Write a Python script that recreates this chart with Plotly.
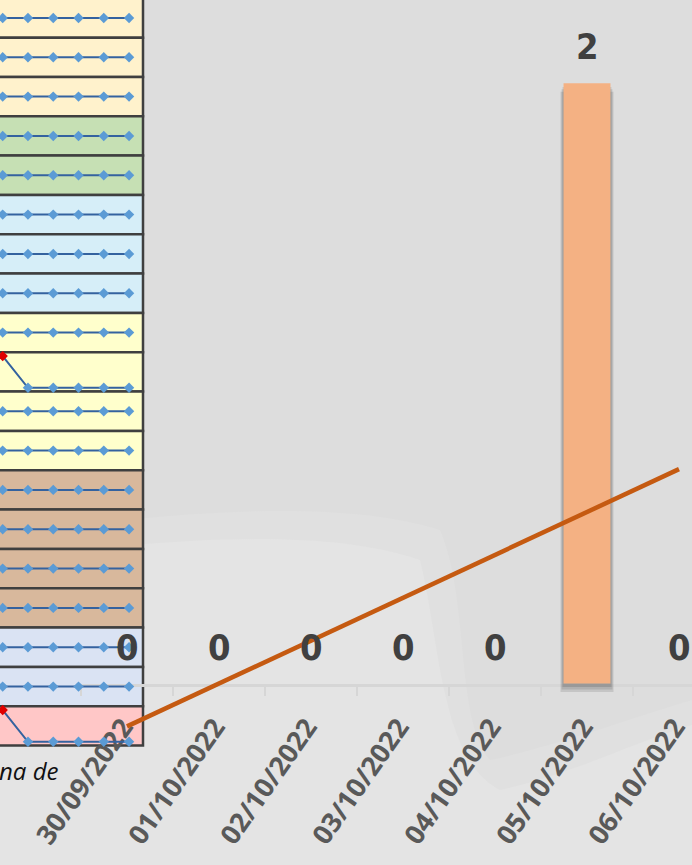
import numpy as np
import plotly.graph_objects as go

# ---------------- data ----------------
dates = ["30/09/2022", "01/10/2022", "02/10/2022", "03/10/2022",
         "04/10/2022", "05/10/2022", "06/10/2022"]
counts = [0, 0, 0, 0, 0, 2, 0]

# sparkline values shown in the (cropped) table, one list per row
spark_rows = [
    [0, 0, 0, 0, 0, 0],
    [0, 0, 0, 0, 0, 0],
    [0, 0, 0, 0, 0, 0],
    [0, 0, 0, 0, 0, 0],
    [0, 0, 0, 0, 0, 0],
    [0, 0, 0, 0, 0, 0],
    [0, 0, 0, 0, 0, 0],
    [0, 0, 0, 0, 0, 0],
    [0, 0, 0, 0, 0, 0],
    [1, 0, 0, 0, 0, 0],
    [0, 0, 0, 0, 0, 0],
    [0, 0, 0, 0, 0, 0],
    [0, 0, 0, 0, 0, 0],
    [0, 0, 0, 0, 0, 0],
    [0, 0, 0, 0, 0, 0],
    [0, 0, 0, 0, 0, 0],
    [0, 0, 0, 0, 0, 0],
    [0, 0, 0, 0, 0, 0],
    [1, 0, 0, 0, 0, 0],
]
row_group_sizes = [3, 2, 3, 4, 4, 2, 1]
row_group_colors = ["#FFF2CC", "#C6E0B4", "#D6EEF8", "#FFFFCC",
                    "#D8B89C", "#DAE3F3", "#FFC7C7"]

# ---------------- layout geometry (pixels) ----------------
W, H = 692, 865
def fx(px):
    return px / W
def fy(py):
    return (H - py) / H

TABLE_RIGHT = 143
ROW_TOP0 = -1.7
ROW_H = 39.33
CAT0_PX = 127.0
CAT_STEP = 92.0
ZERO_PX = 683.5
PX_PER_UNIT = 300.1
SPARK_X0 = 2.7
SPARK_STEP = 25.27

x_lo = (81 - CAT0_PX) / CAT_STEP
x_hi = (W - CAT0_PX) / CAT_STEP

fig = go.Figure()

shapes = []
def P(a, b):
    return f"{fx(a):.5f},{fy(b):.5f}"

# soft lighter swoosh in the lower part of the background (two tones)
path_outer = (f"M {P(0,535)} C {P(150,515)} {P(330,495)} {P(440,530)} "
              f"C {P(470,600)} {P(455,720)} {P(490,760)} "
              f"C {P(560,745)} {P(640,715)} {P(692,700)} "
              f"L {P(692,865)} L {P(0,865)} Z")
path_inner = (f"M {P(0,560)} C {P(150,540)} {P(320,525)} {P(420,560)} "
              f"C {P(440,640)} {P(440,760)} {P(500,790)} "
              f"C {P(570,775)} {P(640,740)} {P(692,725)} "
              f"L {P(692,865)} L {P(0,865)} Z")
shapes.append(dict(type="path", xref="paper", yref="paper", path=path_outer,
                   fillcolor="#E0E0E0", line_width=0, layer="below"))
shapes.append(dict(type="path", xref="paper", yref="paper", path=path_inner,
                   fillcolor="#E4E4E4", line_width=0, layer="below"))

row_colors = []
for n, c in zip(row_group_sizes, row_group_colors):
    row_colors += [c] * n

for k, c in enumerate(row_colors):
    top = ROW_TOP0 + k * ROW_H
    shapes.append(dict(type="rect", xref="paper", yref="paper",
                       x0=-0.02, x1=fx(TABLE_RIGHT), y0=fy(top + ROW_H), y1=fy(top),
                       fillcolor=c, line=dict(color="#3F3F3F", width=2.5), layer="below"))

# ---------------- sparklines ----------------
layout_axes = {}
layout_axes["xaxis2"] = dict(domain=[0, fx(TABLE_RIGHT)],
                             range=[-SPARK_X0 / SPARK_STEP, (TABLE_RIGHT - SPARK_X0) / SPARK_STEP],
                             visible=False, anchor="y4", fixedrange=True, automargin=False)
for k, vals in enumerate(spark_rows):
    yid = 4 + k
    top = ROW_TOP0 + k * ROW_H
    bot = top + ROW_H
    vmin, vmax = min(vals), max(vals)
    if vmax == vmin:
        r0, r1 = vmin - 1, vmax + 1
    else:
        pad = 0.12 * (vmax - vmin)
        r0, r1 = vmin - pad, vmax + pad
    upp = (r1 - r0) / ROW_H
    if top < 0:
        r1 -= (0 - top) * upp
        top = 0
    layout_axes[f"yaxis{yid}"] = dict(domain=[fy(bot), fy(top)], range=[r0, r1],
                                      visible=False, anchor="x2", fixedrange=True,
                                      automargin=False)
    mcolors = ["#E00000" if (v == vmax and vmax > vmin) else "#5B9BD5" for v in vals]
    fig.add_trace(go.Scatter(
        x=list(range(len(vals))), y=vals, mode="lines+markers",
        line=dict(color="#34629F", width=2),
        marker=dict(symbol="diamond", size=8, color=mcolors),
        xaxis="x2", yaxis=f"y{yid}", showlegend=False, hoverinfo="skip", cliponaxis=False))

# ---------------- main chart ----------------
fig.add_trace(go.Scatter(x=dates, y=[None] * len(dates), xaxis="x", yaxis="y",
                         showlegend=False, hoverinfo="skip"))

idx = np.arange(len(counts))
shadow_vals = [v if v > 0 else None for v in counts]
for k in range(3, 0, -1):
    fig.add_trace(go.Bar(x=dates, y=shadow_vals, base=-0.008 * k - 0.004,
                         width=0.51 + 0.022 * k,
                         marker=dict(color="rgba(40,40,40,0.13)", line_width=0),
                         xaxis="x", yaxis="y3", showlegend=False, hoverinfo="skip"))
fig.add_trace(go.Bar(x=dates, y=counts, width=0.51,
                     marker=dict(color="#F4B183", line_width=0),
                     xaxis="x", yaxis="y3", showlegend=False))

coef = np.polyfit(idx, counts, 1)
trend = np.polyval(coef, idx)
fig.add_trace(go.Scatter(x=dates, y=trend, mode="lines",
                         line=dict(color="#C55A11", width=4.5),
                         xaxis="x", yaxis="y3", showlegend=False, hoverinfo="skip"))

annotations = []
for d, v in zip(dates, counts):
    annotations.append(dict(x=d, y=v, xref="x", yref="y3", text=str(v), showarrow=False,
                            yanchor="bottom", yshift=14,
                            font=dict(family="Liberation Sans Narrow, DejaVu Sans Condensed, Roboto Condensed, Roboto",
                                      size=36, color="#404040", weight="bold")))
annotations.append(dict(x=fx(-3), y=fy(770), xref="paper", yref="paper", text="na de",
                        showarrow=False, xanchor="left", yanchor="middle",
                        font=dict(family="Open Sans", size=24, color="#111111", style="italic")))

fig.update_layout(
    width=W, height=H, margin=dict(l=0, r=0, t=0, b=0, autoexpand=False),
    paper_bgcolor="#DDDDDD", plot_bgcolor="rgba(0,0,0,0)",
    barmode="overlay", showlegend=False,
    shapes=shapes, annotations=annotations,
    xaxis=dict(domain=[fx(81), 1], type="category", categoryorder="array",
               categoryarray=dates, range=[x_lo, x_hi], anchor="y", automargin=False,
               showline=True, linecolor="#D6D6D6", linewidth=3,
               ticks="outside", tickson="boundaries", ticklen=9, tickwidth=2,
               tickcolor="#D6D6D6", showgrid=False, zeroline=False,
               tickangle=-55, ticklabelstandoff=14, ticklabelshift=-4,
               tickfont=dict(family="Open Sans", size=27, color="#595959", weight=700),
               fixedrange=True),
    yaxis=dict(domain=[fy(ZERO_PX), 1], range=[0, ZERO_PX / PX_PER_UNIT],
               visible=False, anchor="x", fixedrange=True, automargin=False),
    yaxis3=dict(domain=[0, 1], range=[-(H - ZERO_PX) / PX_PER_UNIT, ZERO_PX / PX_PER_UNIT],
                visible=False, anchor="x", fixedrange=True, automargin=False),
    **layout_axes,
)

fig.write_html("out.html", config={"displayModeBar": False},
               post_script="document.body.style.margin='0';document.body.style.overflow='hidden';")
